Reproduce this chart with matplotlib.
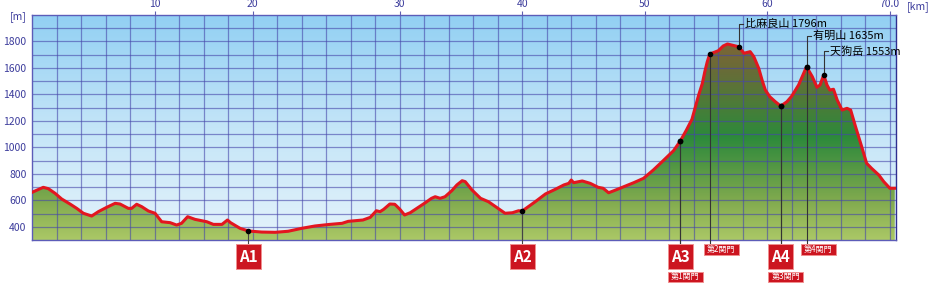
import numpy as np
import matplotlib
matplotlib.use("Agg")
import matplotlib.pyplot as plt
from matplotlib.colors import LinearSegmentedColormap
from matplotlib.patches import Polygon, Rectangle

plt.rcParams['font.family'] = ['Noto Sans CJK JP', 'DejaVu Sans']

# course profile: distance [km], elevation [m]
dist = [0.0, 0.92, 1.33, 1.88, 2.42, 3.1, 3.65, 4.19, 4.87, 5.41, 6.1, 6.78, 7.18, 7.86,
        8.13, 8.54, 8.95, 9.5, 10.04, 10.58, 11.27, 11.8, 12.2, 12.7, 13.3, 14.26, 14.8,
        15.5, 15.95, 16.2, 16.98, 17.66, 18.75, 19.84, 20.9, 22.0, 23.1, 24.3, 25.3, 25.8,
        27.0, 27.6, 28.1, 28.4, 28.7, 29.2, 29.6, 30.0, 30.4, 30.86, 31.4, 32.1, 32.6, 32.9,
        33.3, 33.7, 34.26, 34.67, 35.1, 35.35, 35.9, 36.6, 37.25, 37.9, 38.6, 39.2, 39.7,
        40.0, 41.06, 41.9, 42.7, 43.4, 43.8, 44.0, 44.2, 44.9, 45.55, 46.2, 46.6, 47.05,
        47.5, 48.3, 49.1, 49.9, 50.7, 51.5, 52.35, 52.9, 53.4, 53.85, 54.1, 54.4, 54.7,
        54.9, 55.1, 55.3, 56.0, 56.4, 56.75, 57.1, 57.66, 58.1, 58.6, 58.9, 59.3, 59.57,
        59.84, 60.2, 60.65, 61.1, 61.6, 62.0, 62.55, 62.96, 63.2, 63.67, 64.05, 64.3, 64.6,
        64.87, 65.1, 65.4, 65.7, 66.1, 66.5, 66.8, 67.2, 67.7, 68.1, 68.5, 69.1, 69.5,
        70.0, 70.4]
elev = [660, 698, 688, 653, 610, 572, 539, 502, 481, 514, 547, 577, 572, 539,
        539, 570, 552, 519, 502, 438, 431, 413, 426, 476, 456, 438, 418,
        418, 451, 431, 388, 368, 360, 358, 366, 388, 406, 418, 426, 441,
        451, 471, 521, 514, 532, 572, 570, 534, 489, 506, 539, 582, 615, 627,
        615, 627, 673, 716, 748, 741, 678, 615, 589, 547, 502, 506, 521,
        519, 589, 648, 683, 716, 728, 753, 733, 746, 728, 698, 691, 657,
        673, 703, 733, 766, 829, 899, 975, 1048, 1131, 1212, 1295, 1396, 1484,
        1572, 1647, 1705, 1730, 1766, 1781, 1773, 1760, 1711, 1723, 1685, 1597, 1509,
        1433, 1383, 1345, 1312, 1345, 1388, 1471, 1559, 1609, 1534, 1454, 1471, 1547,
        1471, 1433, 1439, 1358, 1282, 1295, 1282, 1156, 1005, 880, 842, 791, 741,
        691, 691]

# summits
peak_names = ['比麻良山 1796m', '有明山 1635m', '天狗岳 1553m']
peak_km = [57.66, 63.2, 64.6]

# aid stations and check gates
aid_names = ['A1', 'A2', 'A3', 'A4']
aid_km = [17.66, 40.0, 52.9, 61.1]
gate_names = ['第1関門', '第2関門', '第3関門', '第4関門']
gate_km = [52.9, 55.3, 61.1, 63.2]

xtick_pos = [10, 18, 30, 40, 50, 60, 70]
xtick_labels = ['10', '20', '30', '40', '50', '60', '70.0']
ytick_pos = [400, 600, 800, 1000, 1200, 1400, 1600, 1800]

W, H = 933, 290
fig = plt.figure(figsize=(W / 100, H / 100), dpi=100)
ax = fig.add_axes([32 / W, 1 - 240 / H, 864 / W, 225 / H])
x0, x1, y0, y1 = 0, 70.5, 300, 2000
ax.set_xlim(x0, x1)
ax.set_ylim(y0, y1)

# sky
sky = LinearSegmentedColormap.from_list('sky', ['#e4f3fb', '#c4e5f8', '#92d0f3'])
ax.imshow(np.linspace(0, 1, 256).reshape(-1, 1), cmap=sky, origin='lower',
          extent=[x0, x1, y0, y1], aspect='auto', zorder=0)

# ground coloured by elevation
stops = [(300, '#abc866'), (600, '#80aa4e'), (900, '#4b9442'), (1080, '#2c8a3b'),
         (1350, '#4f7a38'), (1600, '#6a6b37'), (1800, '#7e6536'), (2000, '#7e6536')]
ground = LinearSegmentedColormap.from_list(
    'ground', [((e - y0) / (y1 - y0), c) for e, c in stops])
im = ax.imshow(np.linspace(0, 1, 256).reshape(-1, 1), cmap=ground, origin='lower',
               extent=[x0, x1, y0, y1], aspect='auto', zorder=1)
verts = np.column_stack([np.r_[dist[0], dist, dist[-1]], np.r_[y0, elev, y0]])
clip = Polygon(verts, closed=True, fc='none', ec='none', transform=ax.transData)
ax.add_patch(clip)
im.set_clip_path(clip)

# grid
for gx in np.arange(2, 71, 2):
    ax.axvline(gx, color='#4646aa', lw=0.9, alpha=0.6, zorder=2)
for gy in np.arange(400, 2000, 100):
    ax.axhline(gy, color='#4646aa', lw=0.9, alpha=0.6, zorder=2)

ax.plot(dist, elev, color='#e3161f', lw=2.2, zorder=3, solid_joinstyle='round')

for s in ax.spines.values():
    s.set_color('#5c5cb8')
    s.set_linewidth(1.0)
ax.spines['right'].set_color('#2e2e90')

ax.xaxis.set_ticks_position('top')
ax.set_xticks(xtick_pos)
ax.set_xticklabels(xtick_labels)
ax.set_yticks(ytick_pos)
ax.tick_params(axis='x', length=3, width=0.8, color='#6060b0', labelsize=7.5,
               labelcolor='#3c3c9c', pad=1)
ax.tick_params(axis='y', length=0, labelsize=7.5, labelcolor='#3c3c9c', pad=4)
fig.text(18 / W, 1 - 17 / H, '[m]', ha='center', va='center', fontsize=7.5, color='#3c3c9c')
fig.text(918 / W, 1 - 7 / H, '[km]', ha='center', va='center', fontsize=7.5, color='#3c3c9c')

# summit labels
peak_label_y = [1932, 1841, 1726]
for name, km, ly in zip(peak_names, peak_km, peak_label_y):
    e = np.interp(km, dist, elev)
    ax.plot([km, km, km + 0.35], [e, ly, ly], color='#333333', lw=0.8, zorder=4)
    ax.plot(km, e, 'o', color='black', ms=3, zorder=5)
    ax.text(km + 0.55, ly, name, fontsize=8, va='center', ha='left', zorder=5)


def px(km):
    return ax.transData.transform((km, 0))[0]


def box(left, top, w, h, label, size, bold):
    fig.add_artist(Rectangle((left / W, 1 - (top + h) / H), w / W, h / H,
                             transform=fig.transFigure, fc='#cc1520', ec='#f09090', lw=0.7))
    fig.text((left + w / 2) / W, 1 - (top + h / 2) / H, label, color='white',
             fontsize=size, ha='center', va='center',
             fontweight='bold' if bold else 'normal')


# aid stations
for name, km in zip(aid_names, aid_km):
    e = np.interp(km, dist, elev)
    ax.plot([km, km], [e, 270], color='#444444', lw=0.8, zorder=4, clip_on=False)
    ax.plot(km, e, 'o', color='black', ms=3, zorder=5)
    box(px(km) - 12.5, 244, 25, 25, name, 11, True)

# check gates
for name, km in zip(gate_names, gate_km):
    e = np.interp(km, dist, elev)
    ax.plot([km, km], [e, 270], color='#333333', lw=0.8, zorder=4, clip_on=False)
    ax.plot(km, e, 'o', color='black', ms=3, zorder=5)
    if km in aid_km:
        box(px(km) - 12.5, 271.5, 35, 10.5, name, 5.8, False)
    else:
        box(px(km) - 6, 244, 35, 10.5, name, 5.8, False)

fig.savefig('out.png', dpi=100)
